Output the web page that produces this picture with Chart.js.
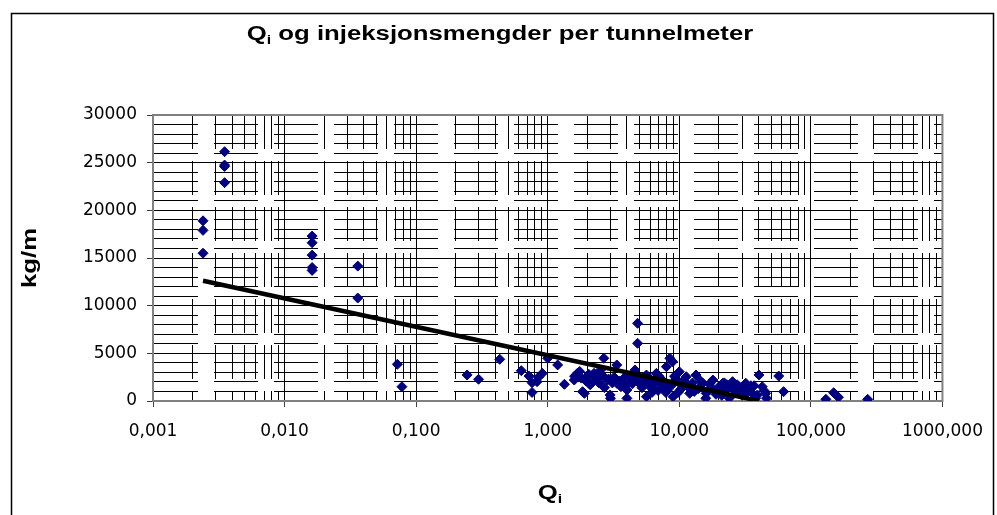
<!DOCTYPE html>
<html>
<head>
<meta charset="utf-8">
<script src="https://cdn.jsdelivr.net/npm/chart.js@4.4.1/dist/chart.umd.min.js"></script>
<style>
  body { margin: 0; background: #fff; }
  canvas { display: block; }
</style>
</head>
<body>
<canvas id="qiChart" width="997" height="515"></canvas>
<script>
// Qi (x) and injection amount kg/m (y)
var qiValues = [
  0.0024, 0.0024, 0.0024, 0.0035, 0.0035, 0.0035, 0.0035,
  0.0162, 0.0162, 0.0162, 0.0162, 0.0162, 0.036, 0.036, 0.072, 0.078,
  0.244, 0.298, 0.432, 0.63, 0.72, 0.76, 0.76, 0.83, 0.85, 0.91,
  1.0, 1.19, 1.34, 1.59, 1.68, 1.75, 1.84, 1.9, 2.0, 2.1,
  2.2, 2.25, 2.4, 2.52, 2.67, 2.7, 2.84, 2.98, 3.0, 3.2,
  3.35, 3.35, 3.6, 3.8, 4.0, 4.0, 4.3, 4.4, 4.6, 4.82,
  4.82, 5.0, 5.2, 5.4, 5.63, 5.63, 5.9, 6.0, 6.2, 6.3,
  6.7, 7.0, 7.1, 7.5, 7.7, 7.98, 8.2, 8.47, 8.9, 8.96,
  9.0, 9.4, 9.8, 10.0, 10.5, 11, 11.3, 12.0, 12.6, 13,
  13.4, 14.0, 15.1, 15.9, 16.8, 17, 18.0, 19.0, 20.0, 21.4,
  22.6, 23, 24.0, 25.4, 26, 27, 28.5, 30, 31, 32,
  34, 35, 36, 38, 40.3, 42.7, 45.3, 46, 57, 62,
  130, 149, 162, 270,
  1.6, 1.8, 1.95, 2.05, 2.3, 2.45, 2.6, 2.9, 3.1, 3.5,
  3.9, 4.2, 4.7, 5.1, 5.3, 5.8, 6.1, 6.5, 6.9, 7.3,
  7.9, 8.5, 9.2, 10.2, 10.8, 11.8, 12.2, 14.5, 16, 17.5,
  19.5, 21, 22, 24.5, 27.5, 29, 33, 37, 39, 44
];
var kgPerMeter = [
  18900, 17900, 15500, 26150, 24750, 24600, 22900,
  17300, 16600, 15300, 14000, 13700, 14150, 10800, 3850, 1500,
  2730, 2280, 4370, 3180, 2620, 1920, 900, 2030, 2500, 2900,
  4480, 3780, 1750, 2200, 2900, 3100, 980, 800, 2550, 1700,
  2000, 2900, 2300, 3250, 4480, 1400, 2200, 630, 280, 2500,
  3780, 1860, 1500, 2400, 1150, 280, 2000, 1800, 3250, 6050,
  8150, 2200, 1400, 2500, 2730, 450, 1700, 2200, 900, 1150,
  2900, 2600, 2000, 1860, 1400, 3600, 1200, 4480, 4120, 450,
  1800, 2300, 900, 3070, 1600, 2000, 2550, 800, 1900, 1000,
  2730, 1300, 1860, 280, 1200, 1800, 2200, 700, 1500, 1860,
  1150, 1700, 300, 2030, 1300, 900, 1500, 600, 1400, 1860,
  1200, 1600, 800, 300, 2730, 1500, 800, 300, 2620, 980,
  180, 870, 390, 180,
  2600, 2400, 2100, 2800, 2600, 1900, 2700, 2300, 1900, 2100,
  1600, 2600, 2300, 1700, 2000, 2500, 1400, 1800, 1100, 2300,
  900, 1600, 2600, 1200, 2200, 1500, 1200, 2100, 800, 1400,
  1100, 600, 1900, 1500, 1700, 1200, 900, 1600, 600, 1100
];

// logarithmic trend line, start and end
var trendQi = [0.0024, 40.5];
var trendKg = [12620, 0];

var xDecades = [0.001, 0.01, 0.1, 1, 10, 100, 1000];
var xTickLabels = ['0,001', '0,010', '0,100', '1,000', '10,000', '100,000', '1000,000'];
var xMinorSteps = [2, 3, 4, 5, 6, 7, 8, 9];
var yTickLabels = ['0', '5000', '10000', '15000', '20000', '25000', '30000'];
var yMajorStep = 5000;
var yMinorStep = 1000;
var yMax = 30000;

function decadeIndex(v) {
  for (var i = 0; i < xDecades.length; i++) {
    if (Math.abs(v - xDecades[i]) < xDecades[i] * 1e-6) return i;
  }
  return -1;
}

var scatterPoints = qiValues.map(function (q, i) { return { x: q, y: kgPerMeter[i] }; });
var trendPoints = trendQi.map(function (q, i) { return { x: q, y: trendKg[i] }; });

function drawParts(ctx, parts, stretch) {
  var total = 0;
  parts.forEach(function (p) { ctx.font = p.font; p.w = ctx.measureText(p.text).width; total += p.w; });
  ctx.scale(stretch, 1);
  var x = -total / 2;
  parts.forEach(function (p) {
    ctx.font = p.font;
    ctx.fillText(p.text, x, p.dy || 0);
    x += p.w;
  });
}

var textPlugin = {
  id: 'excelText',
  beforeDatasetsDraw: function (chart) {
    var ctx = chart.ctx, a = chart.chartArea;
    ctx.save();
    ctx.strokeStyle = '#808080';
    ctx.lineWidth = 2;
    ctx.strokeRect(a.left, a.top, a.right - a.left, a.bottom - a.top);
    ctx.restore();
  },
  afterDraw: function (chart) {
    var ctx = chart.ctx;
    var big = "bold 19.5px 'Liberation Sans', Arial, sans-serif";
    var sub = "bold 12px 'Liberation Sans', Arial, sans-serif";
    ctx.save();
    ctx.fillStyle = '#000';
    ctx.textBaseline = 'alphabetic';
    ctx.textAlign = 'left';

    // title
    ctx.save();
    ctx.translate(500, 40);
    drawParts(ctx, [
      { text: 'Q', font: big },
      { text: 'i', font: sub, dy: 4 },
      { text: ' og injeksjonsmengder per tunnelmeter', font: big }
    ], 1.32);
    ctx.restore();

    // x axis title
    ctx.save();
    ctx.translate(550, 499);
    drawParts(ctx, [
      { text: 'Q', font: big },
      { text: 'i', font: sub, dy: 4 }
    ], 1.32);
    ctx.restore();

    // y axis title
    ctx.save();
    ctx.translate(36, 258);
    ctx.rotate(-Math.PI / 2);
    drawParts(ctx, [{ text: 'kg/m', font: big }], 1.32);
    ctx.restore();

    // outer frame
    ctx.strokeStyle = '#000';
    ctx.lineWidth = 1.5;
    ctx.strokeRect(11.5, 13.5, 982, 600);
    ctx.restore();
  }
};

var tickFont = { family: "'DejaVu Sans', sans-serif", size: 17 };

new Chart(document.getElementById('qiChart'), {
  type: 'scatter',
  data: {
    datasets: [{
      label: 'Trend',
      data: trendPoints,
      showLine: true,
      borderColor: '#000',
      borderWidth: 4.5,
      pointRadius: 0,
      fill: false
    }, {
      label: 'kg/m',
      data: scatterPoints,
      pointStyle: 'rectRot',
      pointRadius: 5,
      pointBackgroundColor: '#000080',
      pointBorderColor: '#000080',
      pointBorderWidth: 1
    }]
  },
  options: {
    responsive: false,
    animation: false,
    devicePixelRatio: 1,
    layout: { padding: { top: 115, right: 50, left: 0, bottom: 0 } },
    plugins: {
      legend: { display: false },
      tooltip: { enabled: false },
      title: { display: false }
    },
    scales: {
      x: {
        type: 'logarithmic',
        min: 0.001,
        max: 1000,
        afterBuildTicks: function (scale) {
          var ticks = [];
          for (var d = 0; d < xDecades.length; d++) {
            ticks.push({ value: xDecades[d] });
            if (d < xDecades.length - 1) {
              xMinorSteps.forEach(function (m) {
                ticks.push({ value: Number((m * xDecades[d]).toPrecision(6)) });
              });
            }
          }
          scale.ticks = ticks;
        },
        afterFit: function (scale) { scale.height = 114; },
        ticks: {
          autoSkip: false,
          maxRotation: 0,
          minRotation: 0,
          padding: 14,
          color: '#000',
          font: tickFont,
          callback: function (value) {
            var i = decadeIndex(value);
            return i >= 0 ? xTickLabels[i] : '';
          }
        },
        grid: {
          color: '#000',
          lineWidth: 1,
          tickLength: 6,
          tickColor: function (c) {
            return c.tick && decadeIndex(c.tick.value) >= 0 ? '#404040' : 'rgba(0,0,0,0)';
          }
        },
        border: {
          color: '#404040',
          width: 2,
          dash: function (c) {
            return c.tick && decadeIndex(c.tick.value) < 0 ? [34, 12] : [];
          }
        }
      },
      y: {
        type: 'linear',
        min: 0,
        max: yMax,
        afterBuildTicks: function (scale) {
          var ticks = [];
          for (var v = 0; v <= yMax; v += yMinorStep) ticks.push({ value: v });
          scale.ticks = ticks;
        },
        afterFit: function (scale) { scale.width = 153; },
        ticks: {
          autoSkip: false,
          padding: 10,
          color: '#000',
          font: tickFont,
          callback: function (value) {
            return value % yMajorStep === 0 ? yTickLabels[value / yMajorStep] : '';
          }
        },
        grid: {
          color: '#000',
          lineWidth: 1,
          tickLength: 6,
          tickColor: function (c) {
            return c.tick && c.tick.value % yMajorStep === 0 ? '#404040' : 'rgba(0,0,0,0)';
          }
        },
        border: {
          color: '#808080',
          width: 2,
          dash: function (c) {
            return c.tick && c.tick.value % yMajorStep !== 0 ? [44, 16] : [];
          }
        }
      }
    }
  },
  plugins: [textPlugin]
});
</script>
</body>
</html>
